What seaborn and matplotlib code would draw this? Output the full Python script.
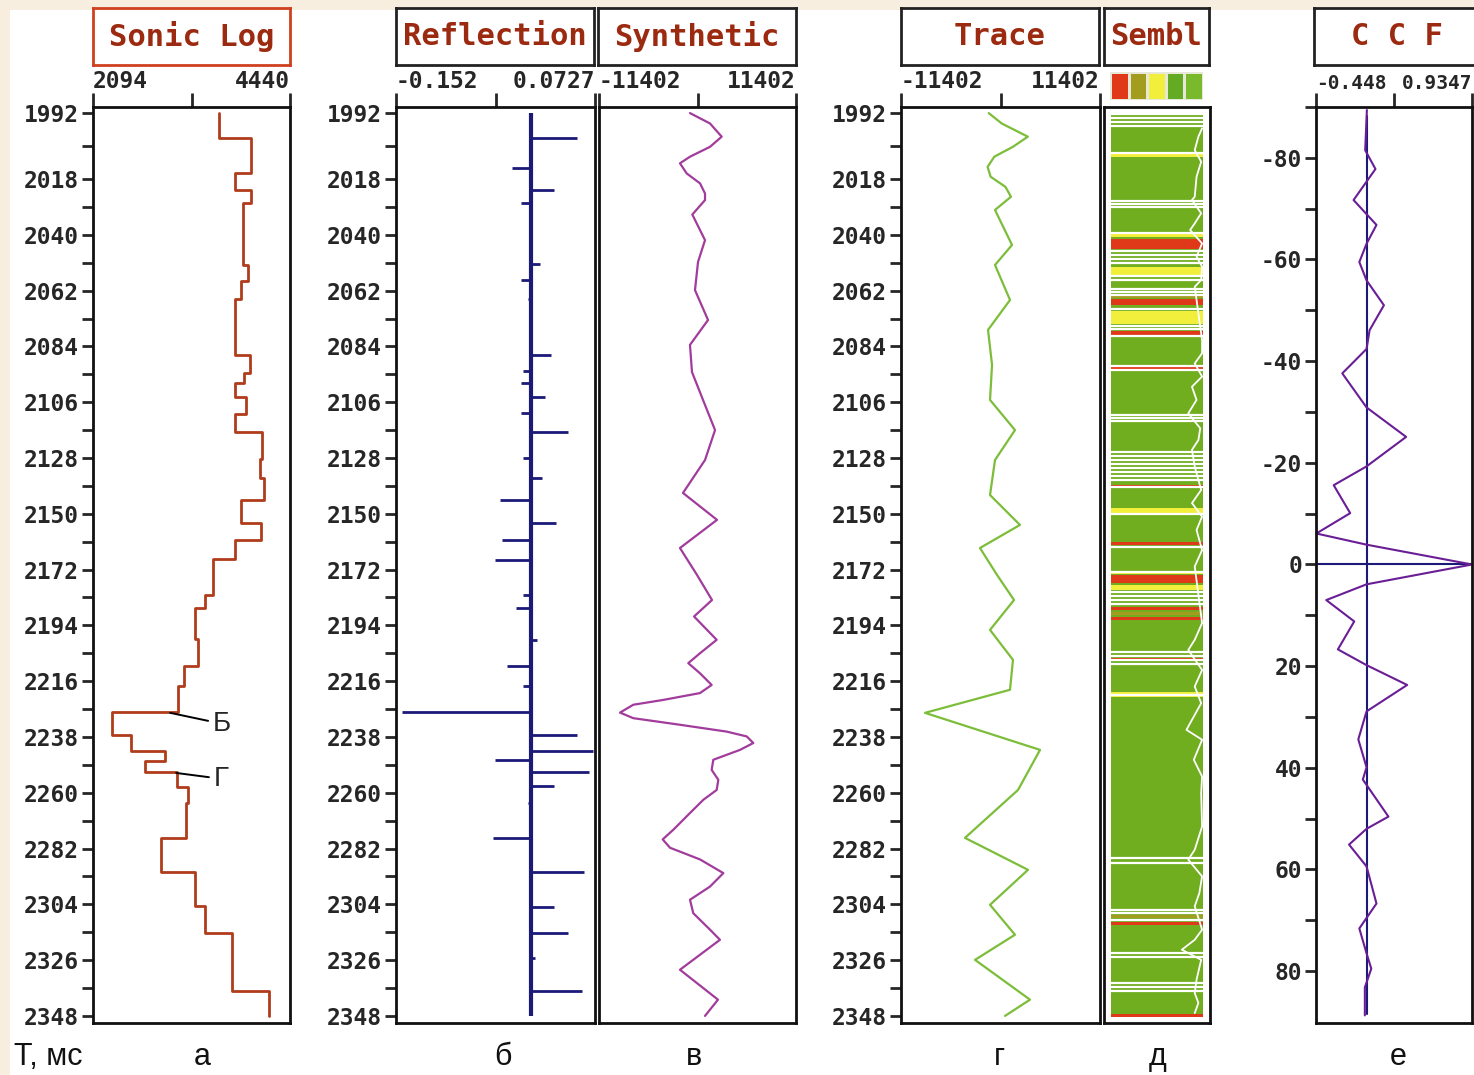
import numpy as np
import pandas as pd
import seaborn as sns
import matplotlib.pyplot as plt
from matplotlib.colors import ListedColormap
from matplotlib.patches import Rectangle

# ---- data ----

# time axis (ms)
time_ticks = [1992, 2018, 2040, 2062, 2084, 2106, 2128, 2150, 2172, 2194,
              2216, 2238, 2260, 2282, 2304, 2326, 2348]

# sonic log: layer tops (ms) and interval velocity
sonic_t = [1992, 2001.8, 2015.8, 2022.3, 2027.4, 2052.1, 2058.4, 2065.4, 2087.5,
           2094.5, 2098.5, 2103.8, 2110.8, 2117.8, 2128.3, 2136.0, 2144.6, 2153.5,
           2160.2, 2167.9, 2181.9, 2187.3, 2199.4, 2209.9, 2218.0, 2228.0, 2237.3,
           2243.6, 2247.6, 2251.8, 2257.6, 2264.1, 2277.7, 2291.4, 2304.7, 2315.4,
           2338.0, 2348]
sonic_v = [3594, 3976, 3787, 3976, 3876, 3936, 3856, 3787, 3968, 3896, 3787, 3916,
           3787, 4110, 4077, 4130, 3856, 4089, 3787, 3521, 3432, 3311, 3344, 3182,
           3110, 2324, 2545, 2949, 2719, 3090, 3223, 3203, 2908, 3303, 3424, 3747,
           4190]

# reflection coefficients
refl_t = [2002, 2013.7, 2022.3, 2027.6, 2051.4, 2058, 2065.4, 2087.5, 2093.8,
          2098.5, 2103.8, 2110.4, 2117.8, 2128, 2136, 2144.6, 2153.7, 2160.2,
          2168.4, 2181.9, 2187.3, 2199.6, 2209.9, 2218, 2228, 2237.3, 2243.6,
          2247.1, 2251.8, 2257.2, 2264, 2277.7, 2291.4, 2304.9, 2315.4, 2325.2,
          2338.0]
refl_v = [0.0525, -0.0212, 0.0265, -0.0113, 0.011, -0.0113, -0.003, 0.0234,
          -0.0087, -0.0113, 0.0159, -0.0113, 0.0423, -0.0087, 0.0129, -0.0348,
          0.0291, -0.0321, -0.040, -0.0087, -0.0163, 0.0076, -0.0268, -0.0087,
          -0.1455, 0.0525, 0.0707, -0.040, 0.0658, 0.0265, -0.003, -0.0427,
          0.0605, 0.0265, 0.0423, 0.0045, 0.0582]

# synthetic seismogram
synth_t = [1992.0, 1996.1, 2001.3, 2005.3, 2009.2, 2011.8, 2015.8, 2019.7, 2023.7,
           2026.3, 2032.0, 2042.1, 2050.7, 2061.8, 2073.6, 2083.4, 2094.1, 2107.1,
           2117.0, 2128.8, 2141.8, 2152.4, 2163.5, 2174.1, 2184.0, 2190.5, 2199.7,
           2205.0, 2208.9, 2212.9, 2217.5, 2220.7, 2223.4, 2225.3, 2228.4, 2230.6,
           2233.2, 2235.9, 2237.8, 2240.4, 2243.1, 2247.0, 2251.0, 2254.9, 2258.9,
           2262.8, 2268.0, 2274.6, 2278.4, 2281.7, 2286.3, 2291.7, 2297.0, 2302.2,
           2307.5, 2314.0, 2318.0, 2329.8, 2341.6, 2348.0]
synth_a = [-870, 1450, 2800, 1450, -870, -2030, -1250, 290, 870, 870, -600, 870,
           60, -290, 1220, -870, -640, 870, 2030, 870, -1680, 2260, -2030, -60,
           1680, -400, 2220, 290, -1070, 290, 1640, 290, -3960, -7430, -8970,
           -7430, -2030, 3380, 5700, 6460, 4920, 1830, 1640, 2410, 2220, 670, -870,
           -2800, -4030, -3180, 290, 2990, 1450, -870, -490, 1450, 2600, -2030,
           2370, 870]

# field trace
trace_t = [1992.0, 1996.1, 2001.3, 2005.3, 2009.2, 2013.2, 2017.1, 2021.1, 2025.0,
           2030.2, 2044.0, 2051.9, 2065.7, 2077.5, 2091.3, 2105.1, 2117.0, 2128.8,
           2142.6, 2154.4, 2163.5, 2174.1, 2184.0, 2195.8, 2207.6, 2219.4, 2228.5,
           2243.1, 2258.9, 2277.8, 2290.4, 2304.2, 2316.0, 2325.9, 2341.6, 2348.0]
trace_a = [-1350, 140, 3130, 1420, -710, -1480, -1130, 570, 1200, -630, 1320, -630,
           1090, -1430, -970, -1200, 1660, -630, -1200, 2230, -2350, -400, 1550,
           -1200, 1430, 1090, -8650, 4530, 2010, -4070, 3150, -1200, 1660, -2920,
           3380, 520]

# semblance: coloured bands (ms), white separators, white curve
sem_span = (1991.8, 2347.8)
sem_yellow = [(2007.4, 2009.3), (2039.3, 2040.9), (2052.7, 2055.9), (2070.0, 2075.2),
              (2147.7, 2149.7), (2172.9, 2173.7), (2178.0, 2180.0), (2220.2, 2222.2)]
sem_red = [(2041.7, 2045.6), (2065.3, 2067.7), (2077.9, 2079.5), (2092.1, 2092.9),
           (2138.6, 2139.4), (2161.1, 2162.3), (2174.1, 2177.3), (2186.7, 2187.9),
           (2190.7, 2191.8), (2206.8, 2207.6), (2310.9, 2312.1), (2347.1, 2348.3)]
sem_olive = [(1995.2, 1995.9), (2064.1, 2064.9), (2188.7, 2189.9), (2308.1, 2309.3)]
sem_white = [1992.4, 1994.0, 1995.5, 1997.1, 2007.8, 2026.7, 2027.9, 2029.1, 2039.3,
             2046.4, 2048.0, 2049.5, 2051.1, 2056.2, 2057.8, 2061.4, 2062.6, 2063.7,
             2069.3, 2076.0, 2077.1, 2079.9, 2091.7, 2093.3, 2111.0, 2112.2, 2113.4,
             2125.6, 2127.2, 2128.8, 2130.4, 2131.9, 2133.5, 2135.1, 2136.7, 2139.4,
             2150.1, 2163.1, 2172.9, 2180.8, 2182.4, 2184.0, 2185.5, 2204.5, 2206.0,
             2207.6, 2209.2, 2221.4, 2285.7, 2287.6, 2306.1, 2307.3, 2310.1, 2323.1,
             2324.7, 2334.9, 2336.5, 2338.1]
sem_curve_t = [1998.0, 2001.3, 2006.6, 2011.2, 2017.1, 2025.0, 2026.3, 2031.5, 2035.5,
               2038.1, 2043.4, 2048.6, 2052.6, 2057.8, 2060.5, 2081.5, 2086.7, 2090.7,
               2095.9, 2099.9, 2105.1, 2110.4, 2116.3, 2120.9, 2124.8, 2131.4, 2140.6,
               2145.8, 2151.1, 2156.4, 2164.3, 2170.8, 2193.1, 2199.7, 2203.7, 2211.6,
               2218.1, 2224.7, 2235.2, 2239.1, 2247.0, 2253.6, 2260.2, 2273.3, 2282.5,
               2286.4, 2293.0, 2299.6, 2304.8, 2314.0, 2318.0, 2321.9, 2325.9, 2333.7,
               2339.0, 2342.9, 2346.9]
sem_curve_v = [0.99, 0.95, 0.91, 0.98, 0.93, 0.91, 0.88, 0.98, 0.91, 0.86, 0.99, 0.93,
               0.99, 0.98, 0.91, 0.99, 0.99, 0.91, 0.99, 0.88, 0.93, 0.84, 0.97, 0.95,
               0.88, 0.91, 0.98, 0.88, 0.99, 0.93, 0.99, 0.91,
               0.99, 0.91, 0.84, 0.99, 0.91, 0.98, 0.82, 0.99, 0.90, 0.99, 0.98, 0.99,
               0.91, 0.84, 0.99, 0.96, 0.91, 0.99, 0.91, 0.77, 0.98, 0.93, 0.91, 0.95,
               0.91]
sem_scale_colors = ['#e0391a', '#a39d1f', '#f2ee3c', '#62ab22', '#79ba2c']

# cross-correlation function
ccf_lag = [-89.4, -81.5, -77.8, -71.7, -66.8, -63.1, -59.5, -55.9, -51.0, -46.1,
           -42.4, -37.6, -30.9, -25.1, -19.3, -15.6, -10.1, -6.1, -3.9, 0, 3.9,
           7.0, 11.2, 16.7, 19.8, 23.7, 28.9, 34.4, 39.9, 42.3, 49.6, 52.0, 55.1,
           59.4, 66.7, 71.6, 76.5, 79.5, 83.2, 88.7]
ccf_v = [0.003, -0.012, 0.079, -0.115, 0.088, 0.0, -0.064, 0.0, 0.154, 0.027, 0.0,
         -0.215, 0.0, 0.351, 0.0, -0.291, -0.145, -0.445, 0.0, 0.935, 0.0, -0.357,
         -0.109, -0.254, 0.0, 0.36, 0.0, -0.073, 0.0, -0.033, 0.194, 0.0, -0.155,
         0.0, 0.088, -0.064, 0.0, 0.042, -0.015, -0.015]
ccf_ticks = [-80, -60, -40, -20, 0, 20, 40, 60, 80]

bottom_labels = [('Т, мс', 14, 'left'), ('а', 202, 'center'), ('б', 503, 'center'),
                 ('в', 694, 'center'), ('г', 999, 'center'), ('д', 1158, 'center'),
                 ('е', 1398, 'center')]

# ---- figure ----
sns.set_theme(style='white', rc={'axes.edgecolor': '#111111', 'axes.linewidth': 2,
                                 'lines.solid_joinstyle': 'round'})
plt.rcParams['font.family'] = ['DejaVu Sans Mono', 'DejaVu Sans']
plt.rcParams['font.weight'] = 'bold'

W, H = 1474, 1075
TICK_FS = 16.5
fig = plt.figure(figsize=(W / 100, H / 100), dpi=100, facecolor='#f7eedf')
fig.patches.append(Rectangle((10 / W, 0), 1, 1 - 10 / H, transform=fig.transFigure,
                             facecolor='white', edgecolor='none', zorder=-1))

def px_axes(x0, y0, x1, y1):
    return fig.add_axes([x0 / W, 1 - y1 / H, (x1 - x0) / W, (y1 - y0) / H])

TITLE_C = '#9b2a10'
minor_t = [(a + b) / 2 for a, b in zip(time_ticks[:-1], time_ticks[1:])]

def top_ticks(ax, xlim, xlabels, fs=TICK_FS):
    ax.xaxis.tick_top()
    ax.set_xticks([xlim[0], (xlim[0] + xlim[1]) / 2, xlim[1]])
    ax.set_xticklabels([xlabels[0], '', xlabels[1]])
    labs = ax.get_xticklabels()
    labs[0].set_ha('left')
    labs[2].set_ha('right')
    ax.tick_params(axis='x', top=True, bottom=False, length=10, width=2,
                   pad=0, labelsize=fs, direction='out')

def log_panel(x0, x1, xlim, xlabels, ylabels=True):
    ax = px_axes(x0, 107, x1, 1023)
    ax.set_ylim(2350.8, 1989.6)
    ax.set_xlim(*xlim)
    for s in ax.spines.values():
        s.set_linewidth(2)
        s.set_color('#111111')
    if xlabels:
        top_ticks(ax, xlim, xlabels)
    else:
        ax.set_xticks([])
    if ylabels:
        ax.set_yticks(time_ticks)
        ax.set_yticklabels([str(t) for t in time_ticks])
        ax.set_yticks(minor_t, minor=True)
        ax.tick_params(axis='y', which='both', left=True, length=8, width=2,
                       pad=2, labelsize=TICK_FS, direction='out')
    else:
        ax.set_yticks([])
    return ax

def title_box(x0, x1, text, edge='#222222'):
    tb = px_axes(x0, 8, x1, 65)
    tb.set_xticks([])
    tb.set_yticks([])
    for s in tb.spines.values():
        s.set_color(edge)
        s.set_linewidth(2)
    tb.text(0.5, 0.5, text, ha='center', va='center', transform=tb.transAxes,
            fontsize=22, fontweight='bold', color=TITLE_C)

def clean(ax):
    ax.set_xlabel('')
    ax.set_ylabel('')

# a) sonic log
ax = log_panel(93, 290, (2094, 4440), ('2094', '4440'))
step_t = np.repeat(sonic_t, 2)[1:-1]
step_v = np.repeat(sonic_v, 2)
sns.lineplot(x=step_v, y=step_t, sort=False, estimator=None, color='#b03c1c',
             lw=2, ax=ax)
for txt, xy, xytext in (('Б', (3013, 2228.5), (3520, 2232.8)),
                        ('Г', (3085, 2252.2), (3530, 2254.5))):
    ax.annotate(txt, xy=xy, xytext=xytext, fontsize=20, family='Liberation Sans',
                fontweight='normal', va='center', ha='left',
                arrowprops=dict(arrowstyle='-', color='black', lw=1.4,
                                shrinkA=1, shrinkB=0))
clean(ax)
title_box(93, 290, 'Sonic Log', edge='#d0401e')

# б) reflection coefficients
ax = log_panel(396, 595, (-0.152, 0.0727), ('-0.152', '0.0727'))
ax.vlines(0, time_ticks[0], time_ticks[-1], color='#1c1a78', lw=3)
ax.hlines(refl_t, 0, refl_v, color='#1c1a78', lw=2)
title_box(396, 594, 'Reflection')

# в) synthetic
ax = log_panel(599, 796, (-11402, 11402), ('-11402', '11402'), ylabels=False)
sns.lineplot(x=synth_a, y=synth_t, sort=False, estimator=None, color='#a23c9c',
             lw=1.6, ax=ax)
clean(ax)
title_box(598, 796, 'Synthetic')

# г) trace
ax = log_panel(901, 1100, (-11402, 11402), ('-11402', '11402'))
sns.lineplot(x=trace_a, y=trace_t, sort=False, estimator=None, color='#7cbd3a',
             lw=1.6, ax=ax)
clean(ax)
title_box(901, 1099, 'Trace')

# д) semblance
ax = log_panel(1104, 1210, (-0.076, 1.076), None, ylabels=False)
green = '#70ae1f'
ax.barh((sem_span[0] + sem_span[1]) / 2, 1, height=sem_span[1] - sem_span[0],
        left=0, color=green, lw=0)
for bands, col in ((sem_yellow, '#f2ee3c'), (sem_red, '#e0391a'), (sem_olive, '#a39d1f')):
    for t0, t1 in bands:
        ax.barh((t0 + t1) / 2, 1, height=t1 - t0, left=0, color=col, lw=0)
ax.hlines(sem_white, 0, 1, color='white', lw=1.6)
sns.lineplot(x=sem_curve_v, y=sem_curve_t, sort=False, estimator=None,
             color='white', lw=1.3, ax=ax)
clean(ax)
title_box(1104, 1209, 'Sembl')
cb = px_axes(1110, 72, 1203, 100)
sns.heatmap(np.arange(5).reshape(1, 5), cmap=ListedColormap(sem_scale_colors),
            cbar=False, xticklabels=False, yticklabels=False, linewidths=1,
            linecolor='#e8e8d8', ax=cb)

# е) cross-correlation
ax = px_axes(1316, 107, 1472, 1023)
ax.set_ylim(90.2, -90.0)
ax.set_xlim(-0.448, 0.9347)
for s in ax.spines.values():
    s.set_linewidth(2)
    s.set_color('#111111')
ax.axhline(0, color='#1c1a78', lw=1.5)
ax.axvline(0, ymin=0.01, ymax=0.99, color='#1c1a78', lw=1.5)
sns.lineplot(x=ccf_v, y=ccf_lag, sort=False, estimator=None, color='#6a1e96',
             lw=1.5, ax=ax)
top_ticks(ax, (-0.448, 0.9347), ('-0.448', '0.9347'), fs=14)
ax.set_yticks(ccf_ticks)
ax.set_yticklabels([str(v) for v in ccf_ticks])
ax.set_yticks([v + 10 for v in ccf_ticks[:-1]] + [-90], minor=True)
ax.tick_params(axis='y', which='both', left=True, length=8, width=2, pad=2,
               labelsize=TICK_FS)
clean(ax)
title_box(1314, 1480, 'C C F')

for text, x, ha in bottom_labels:
    fig.text(x / W, 1 - 1057 / H, text, ha=ha, va='center', fontsize=22,
             family='Liberation Sans', fontweight='normal', color='#111111')

fig.savefig('out.png', dpi=100, facecolor=fig.get_facecolor())
